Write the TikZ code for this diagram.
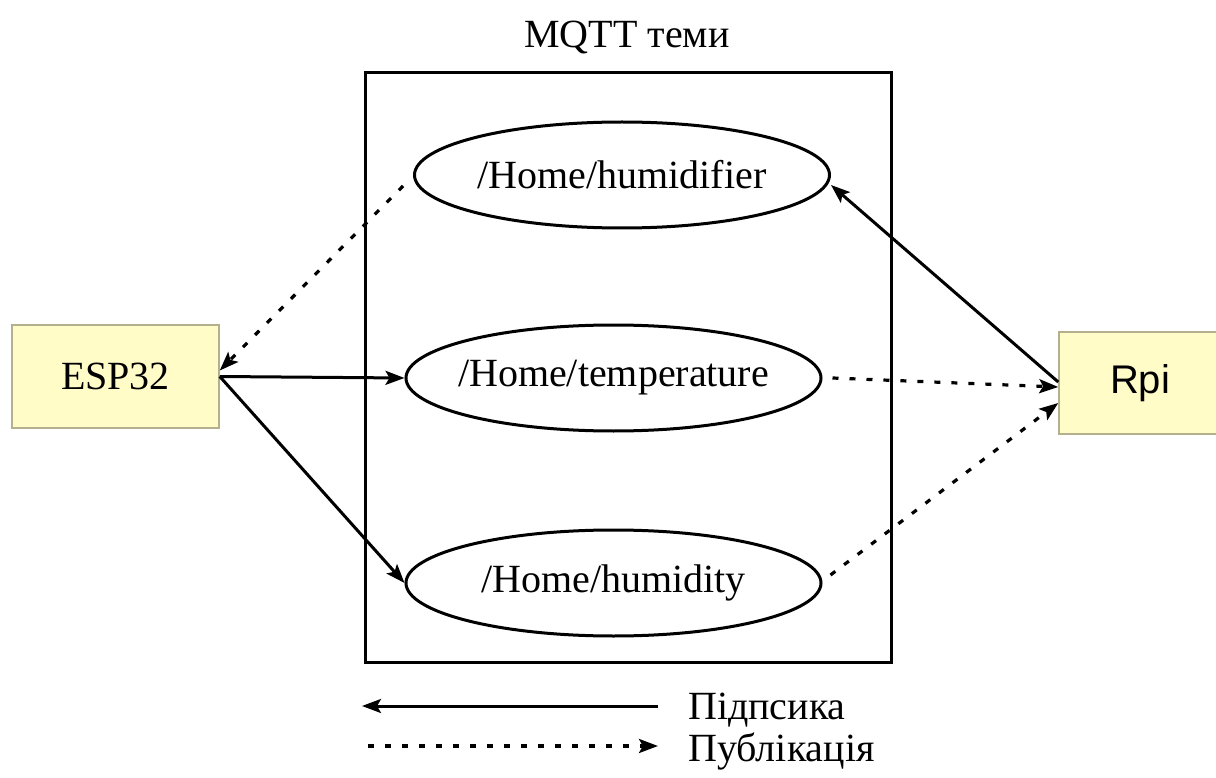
\documentclass[tikz,border=0pt]{standalone}
\usepackage{fontspec}
\setmainfont{Liberation Serif}
\newfontfamily\arialfont{Liberation Sans}
\usetikzlibrary{arrows.meta,shapes.geometric,calc}
\definecolor{boxfill}{HTML}{FFFCC8}
\definecolor{boxline}{HTML}{B4B08E}
\tikzset{
  big/.style={font=\fontsize{40}{48}\selectfont},
  devbox/.style={draw=boxline, line width=1.5pt, fill=boxfill, inner sep=0pt},
  topic/.style={ellipse, draw, line width=3pt, inner sep=0pt, minimum width=415pt, minimum height=106pt},
  tip/.style={-{Stealth[length=19pt,width=14pt,inset=4pt]}},
  subarr/.style={tip, line width=3pt},
  pubarr/.style={tip, line width=3.2pt, dash pattern=on 6pt off 11pt}
}
\begin{document}
\begin{tikzpicture}[x=1pt,y=-1pt]
\useasboundingbox (0,0) rectangle (1216,778);
\clip (0,0) rectangle (1216,778);
\fill[white] (0,0) rectangle (1216,778);

% frame of topics
\node[draw, line width=3pt, minimum width=526pt, minimum height=589pt, inner sep=0pt] (frame) at (628,367.5) {};
\node[big, anchor=base] (title) at (627,48) {MQTT теми};

% devices
\node[devbox, minimum width=207pt, minimum height=103pt, big] (esp) at (115.5,376.5) {ESP32};
\node[devbox, minimum width=162pt, minimum height=102pt, font=\arialfont\fontsize{40}{48}\selectfont] (rpi) at (1140,383) {Rpi};

% topics
\node[topic] (hfr) at (622,175) {};
\node[big] (hfrt) at (hfr) {/Home/humidifier};
\node[topic] (tmp) at (613.5,378) {};
\node[big] (tmpt) at (tmp) {/Home/temperature};
\node[topic] (hmd) at (613.5,583) {};
\node[big] (hmdt) at (hmd) {/Home/humidity};

% connectors
\draw[pubarr] ($(hfr.west)+(-10,11)$) -- ($(esp.east)+(0,-6)$);
\draw[subarr] (esp.east) -- (tmp.west);
\draw[subarr] (esp.east) -- (hmd.west);
\draw[subarr] ($(rpi.west)+(0,-1)$) -- ($(hfr.east)+(0,10)$);
\draw[pubarr] ($(tmp.east)+(10,0)$) -- ($(rpi.west)+(0,4)$);
\draw[pubarr] ($(hmd.east)+(8,-8)$) -- ($(rpi.west)+(0,20)$);

% legend
\coordinate (la) at (658,706);
\coordinate (lb) at (362,706);
\coordinate (lc) at (368,746);
\coordinate (ld) at (658,746);
\draw[subarr] (la) -- (lb);
\draw[pubarr] (lc) -- (ld);
\node[big, anchor=base west, inner sep=0pt] (lsub) at (688,719) {Підпсика};
\node[big, anchor=base west, inner sep=0pt] (lpub) at (688,761) {Публікація};
\end{tikzpicture}
\end{document}
